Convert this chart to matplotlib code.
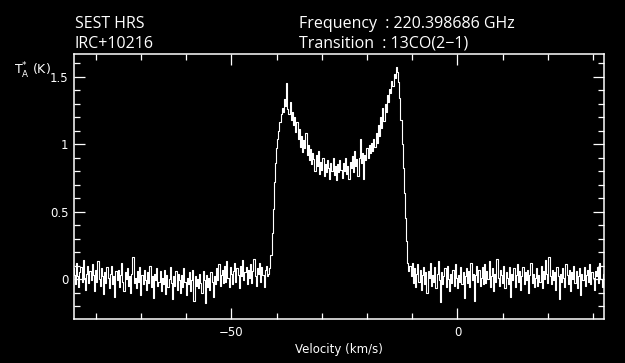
import numpy as np
import matplotlib
matplotlib.use('Agg')
from matplotlib import pyplot as plt
from matplotlib.ticker import MultipleLocator, FuncFormatter

# spectrum of IRC+10216 in 13CO(2-1), channel width 0.25 km/s, first channel at -85 km/s
v0 = -85.0
dv = 0.25

# antenna temperature in units of 0.01 K
base_left = [
    8, 3, -4, 12, 2, -6, 5, 9, -2, 14, 1, -8, 4, 10, -3, 6,
    -1, 11, 3, -9, 7, -2, 13, 0, -5, 8, 2, -11, 5, -3, 9, 1,
    -7, 4, 10, -4, 2, -13, 6, -1, 7, -6, 3, 12, -2, -9, 5, 0,
    8, -5, 2, -10, 4, 16, -3, 1, -7, 6, -2, 9, -12, 3, -4, 7,
    -1, -8, 5, -3, 10, -6, 2, -14, 4, -1, 8, -5, -2, 6, -9, 1,
    -4, 7, -11, 3, -6, 0, 9, -3, -15, 2, -5, 6, -8, 4, -1, -10,
    3, -6, 8, -2, -12, 1, -4, 5, -9, -1, 7, -16, 2, -5, 0, -7,
    4, -3, -10, 6, -1, -18, 3, -6, 1, -8, 5, -2, -13, 2, -4, 8,
    -1, 11, -5, 3, 7, -3, 10, -2, 13, 1, -6, 9, 4, -4, 6, 12,
    -2, 8, 3, -7, 10, 2, 14, -1, 5, 9, -4, 7, 1, 11, -3, 6,
    15, 2, -5, 8, 4, 12, -2, 9, 3, -6, 7, 10,
]

line = [
    2, 4, 8, 18, 34, 52, 72, 86,
    97, 104, 110, 116, 122, 127, 124, 133,
    128, 145, 126, 122, 131, 118, 124, 114,
    120, 109, 116, 104, 111, 98, 106, 94,
    103, 97, 108, 92, 99, 88, 96, 85,
    93, 89, 80, 92, 84, 95, 78, 87,
    81, 90, 76, 85, 79, 88, 82, 74,
    86, 80, 90, 77, 84, 73, 85, 79,
    88, 81, 75, 86, 80, 90, 78, 84,
    74, 87, 82, 91, 79, 95, 84, 89,
    76, 90, 104, 86, 93, 74, 92, 88,
    97, 90, 99, 93, 101, 95, 104, 98,
    108, 101, 114, 106, 120, 112, 127, 117,
    130, 124, 136, 131, 141, 138, 147, 143,
    152, 149, 157, 153, 146, 134, 118, 100,
    82, 64, 45, 28, 12,
]

base_right = [
    6, 10, 2, 12, -3, 8, -6, 4, 11, -2, 7, -8, 3, 9, -4, 5,
    -10, 6, 1, 12, -5, 3, -2, 9, -7, 4, 13, -1, -17, 5, -4, 2,
    8, -6, 10, 0, -9, 4, -3, 7, -5, 11, 1, -7, 3, -2, 9, -4,
    5, -14, 2, 8, -3, 6, -6, 12, -1, 4, -16, 3, 10, -2, 7, -5,
    1, 9, -4, 11, -3, 6, 0, 13, -6, 2, 8, -9, 4, -2, 15, 1,
    -5, 7, 3, -3, 10, -7, 5, 1, -4, 9, -13, 4, -1, 8, -6, 3,
    11, -2, 6, -8, 2, 9, -4, 5, -1, 7, -10, 3, 12, -3, 4, -6,
    1, 8, -5, 3, -2, 10, -7, 6, 0, 14, 4, -3, 16, 2, -4, 7,
    -1, 5, -8, 9, 2, -15, 4, -2, 8, 1, -6, 11, 3, -4, 7, -9,
    5, 0, 10, -3, 6, -7, 2, 8, -12, 4, -1, 9, -5, 3, 7, -2,
    11, -4, 5, 1, -8, 6, 2, 9, -3, 12, 0, -6, 4, 8,
]

ta = np.array(base_left + line + base_right) / 100.0
vel = v0 + dv * np.arange(len(ta))

header_left = ['SEST HRS', 'IRC+10216']
header_right = ['Frequency  : 220.398686 GHz', 'Transition  : 13CO(2\u22121)']

fg = 'white'
bg = 'black'

fig = plt.figure(figsize=(6.25, 3.63), dpi=100, facecolor=bg)
ax = fig.add_axes([74 / 625, 1 - 319 / 363, 530 / 625, 265 / 363], facecolor=bg)

ax.plot(vel, ta, color=fg, lw=0.8, drawstyle='steps-mid')

ax.set_xlim(-84.8, 32.4)
ax.set_ylim(-0.296, 1.667)

ax.xaxis.set_major_locator(MultipleLocator(50))
ax.xaxis.set_minor_locator(MultipleLocator(10))
ax.yaxis.set_major_locator(MultipleLocator(0.5))
ax.yaxis.set_minor_locator(MultipleLocator(0.1))
ax.xaxis.set_major_formatter(FuncFormatter(lambda x, p: ('%g' % x).replace('-', '\u2212')))
ax.yaxis.set_major_formatter(FuncFormatter(lambda y, p: '%g' % round(y, 2)))

ax.tick_params(which='both', direction='in', top=True, right=True, colors=fg,
               labelsize=8.5, width=0.9)
ax.tick_params(which='major', length=8)
ax.tick_params(which='minor', length=4.5)
ax.tick_params(axis='x', pad=5)
ax.tick_params(axis='y', pad=4)
for s in ax.spines.values():
    s.set_color(fg)
    s.set_linewidth(1.1)

hdr = dict(color=fg, fontsize=11.5, va='center', family='Open Sans')
fig.text(75 / 625, 1 - 24 / 363, header_left[0], **hdr)
fig.text(75 / 625, 1 - 44 / 363, header_left[1], **hdr)
fig.text(299 / 625, 1 - 24 / 363, header_right[0], **hdr)
fig.text(299 / 625, 1 - 44 / 363, header_right[1], **hdr)

fig.text(14 / 625, 1 - 71 / 363, r'T$_{\rm A}^{*}$ (K)', color=fg, fontsize=9, va='center')
fig.text(339 / 625, 1 - 350 / 363, 'Velocity (km/s)', color=fg, fontsize=8.5,
         ha='center', va='center')

fig.savefig('out.png', dpi=100, facecolor=bg)
